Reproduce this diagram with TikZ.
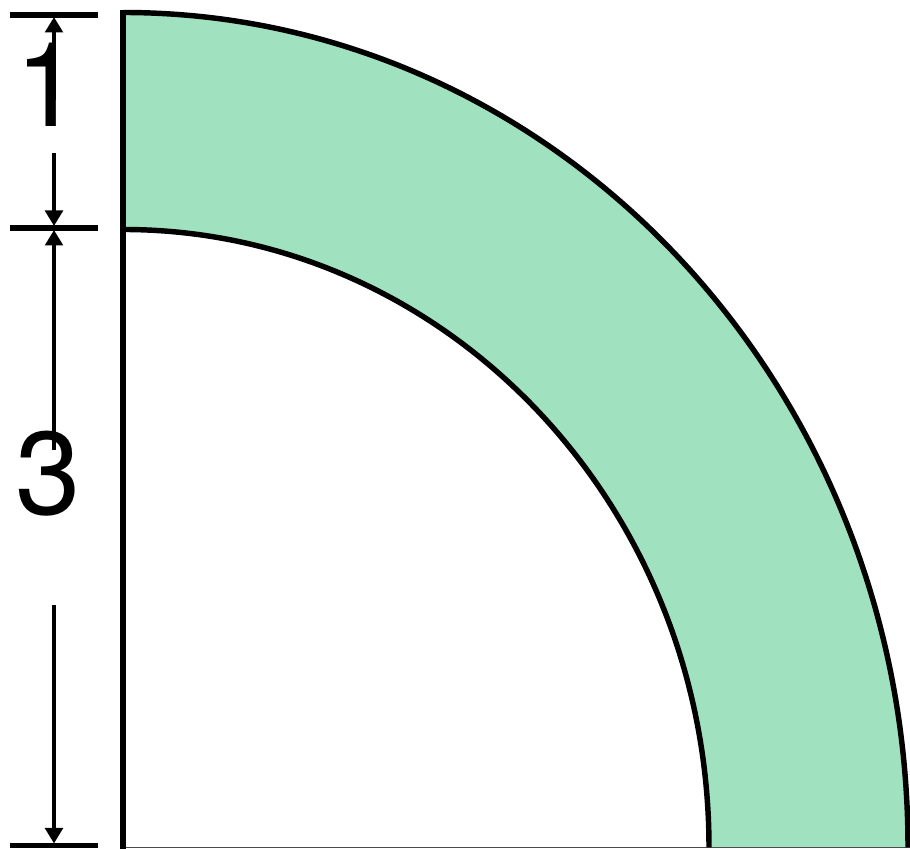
\documentclass[tikz,border=0pt]{standalone}
\usepackage{fontspec}
\setmainfont{Liberation Sans}
\newfontfamily\labelfont{TeX Gyre Heros}
\usepackage{tikz}
\usetikzlibrary{positioning,arrows.meta,calc}

\definecolor{ringgreen}{RGB}{160,226,191}

\begin{document}
\begin{tikzpicture}[
    outline/.style={line width=3.1pt, black},
    tick/.style={line width=2.9pt, black},
    dimarrow/.style={-{Triangle[length=3.1mm, width=3.5mm]}, line width=2.2pt},
    dimlabel/.style={font=\labelfont\fontsize{67}{67}\selectfont, inner sep=0pt}
]
\useasboundingbox (0,0) rectangle (18.2,16.98);

% ===== Key points =====
\coordinate (O) at (2.46,0.03);
\coordinate (outertop) at (2.46,16.73);
\coordinate (innertop) at (2.46,12.39);
\coordinate (bottom) at (2.46,0);

% ===== Ring =====
\fill[ringgreen] (outertop) arc[start angle=90, end angle=0, x radius=15.7, y radius=16.7]
    -- (14.18,0.03) arc[start angle=0, end angle=90, x radius=11.72, y radius=12.36] -- cycle;
\draw[line width=0.85pt, black!70] (O) -- (18.2,0.03);
\draw[outline] (outertop) arc[start angle=90, end angle=0, x radius=15.7, y radius=16.7];
\draw[outline] (innertop) arc[start angle=90, end angle=0, x radius=11.72, y radius=12.36];
\draw[outline] ($(outertop)+(0,0.05)$) -- (bottom);

% ===== Ticks =====
\coordinate (t1l) at (0.2,16.68);  \coordinate (t1r) at (1.96,16.68);
\coordinate (t2l) at (0.2,12.42);  \coordinate (t2r) at (1.96,12.42);
\coordinate (t3l) at (0.2,0.07);   \coordinate (t3r) at (1.96,0.07);
\draw[tick] (t1l) -- (t1r);
\draw[tick] (t2l) -- (t2r);
\draw[tick] (t3l) -- (t3r);

% ===== Labels =====
\node[dimlabel] (one) at (0.96,15.28) {1};
\node[dimlabel] (three) at (0.97,7.5) {3};

% ===== Dimension arrows =====
\coordinate (a1) at (1.08,16.64);
\coordinate (a1e) at (1.08,14.98);
\coordinate (a2s) at (1.08,13.92);
\coordinate (a2) at (1.08,12.46);
\coordinate (a3) at (1.08,12.38);
\coordinate (a3e) at (1.08,7.98);
\coordinate (a4s) at (1.08,4.88);
\coordinate (a4) at (1.08,0.11);
\draw[dimarrow] (a1e) -- (a1);
\draw[dimarrow] (a2s) -- (a2);
\draw[dimarrow] (a3e) -- (a3);
\draw[dimarrow] (a4s) -- (a4);

\end{tikzpicture}
\end{document}
